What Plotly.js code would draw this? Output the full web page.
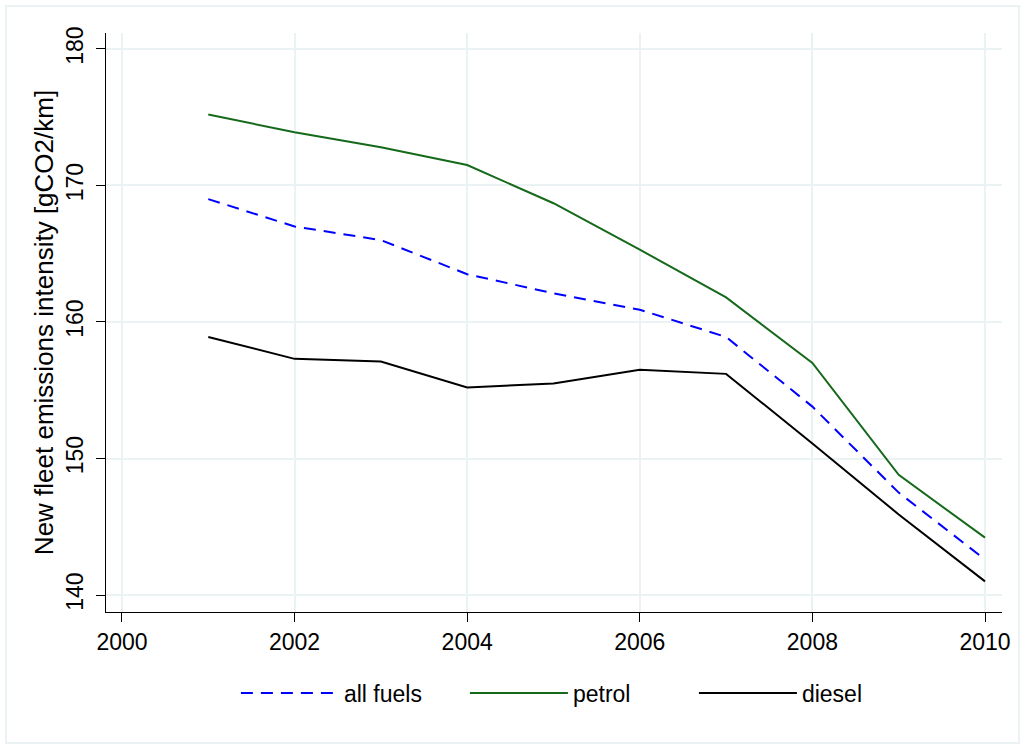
<!DOCTYPE html>
<html>
<head>
<meta charset="utf-8">
<script src="https://cdn.plot.ly/plotly-3.0.1.min.js"></script>
<style>
  html, body { margin: 0; padding: 0; background: #ffffff; }
  #wrap { position: relative; width: 1025px; height: 749px; }
  #chart { width: 1025px; height: 749px; }
  #frame { position: absolute; left: 5px; top: 5px; width: 1011px; height: 735px;
           border: 2px solid #eaf2f3; pointer-events: none; }
</style>
</head>
<body>
<div id="wrap">
  <div id="chart"></div>
  <div id="frame"></div>
</div>
<script>
const years = [2001, 2002, 2003, 2004, 2005, 2006, 2007, 2008, 2009, 2010];
const allFuels = [169.0, 167.0, 166.0, 163.5, 162.1, 160.9, 158.9, 153.8, 147.5, 142.6];
const petrol   = [175.2, 173.9, 172.8, 171.5, 168.7, 165.3, 161.8, 157.0, 148.8, 144.2];
const diesel   = [158.9, 157.3, 157.1, 155.2, 155.5, 156.5, 156.2, 151.1, 145.9, 141.0];
const xTicks = [2000, 2002, 2004, 2006, 2008, 2010];
const yTicks = [140, 150, 160, 170, 180];
const seriesNames = ['all fuels', 'petrol', 'diesel'];

const font = 'Liberation Sans, Arial, sans-serif';

const traces = [
  { x: years, y: allFuels, name: seriesNames[0], type: 'scatter', mode: 'lines',
    line: { color: '#0000ff', width: 2, dash: '12px,8px' } },
  { x: years, y: petrol, name: seriesNames[1], type: 'scatter', mode: 'lines',
    line: { color: '#15691a', width: 2 } },
  { x: years, y: diesel, name: seriesNames[2], type: 'scatter', mode: 'lines',
    line: { color: '#000000', width: 2 } }
];

const layout = {
  width: 1025, height: 749,
  margin: { l: 106, r: 23, t: 33, b: 137 },
  paper_bgcolor: 'rgba(0,0,0,0)',
  plot_bgcolor: '#ffffff',
  font: { family: font, size: 22, color: '#000000' },
  showlegend: true,
  legend: {
    orientation: 'h', x: 0.145, xanchor: 'left', y: -0.14, yanchor: 'middle',
    font: { family: font, size: 23, color: '#000000' },
    itemwidth: 98, entrywidth: 116, entrywidthmode: 'pixels',
    tracegroupgap: 0, bgcolor: 'rgba(0,0,0,0)'
  },
  xaxis: {
    range: [1999.815, 2010.197],
    tickvals: xTicks, ticktext: xTicks.map(String),
    ticks: 'outside', ticklen: 9, tickwidth: 1, tickcolor: '#000000',
    showline: true, linecolor: '#000000', linewidth: 1,
    showgrid: true, gridcolor: '#eaf2f3', gridwidth: 2,
    zeroline: false,
    tickfont: { family: font, size: 23, color: '#000000' }
  },
  yaxis: {
    range: [138.755, 181.17],
    tickvals: yTicks, ticktext: yTicks.map(String),
    tickangle: -90,
    ticks: 'outside', ticklen: 9, tickwidth: 1, tickcolor: '#000000',
    ticklabelstandoff: 4,
    showline: true, linecolor: '#000000', linewidth: 1,
    showgrid: true, gridcolor: '#eaf2f3', gridwidth: 2,
    zeroline: false,
    tickfont: { family: font, size: 23, color: '#000000' },
    title: { text: 'New fleet emissions intensity [gCO2/km]', standoff: 0,
             font: { family: font, size: 26, color: '#000000' } }
  }
};

Plotly.newPlot('chart', traces, layout, { displayModeBar: false, staticPlot: true });
</script>
</body>
</html>
